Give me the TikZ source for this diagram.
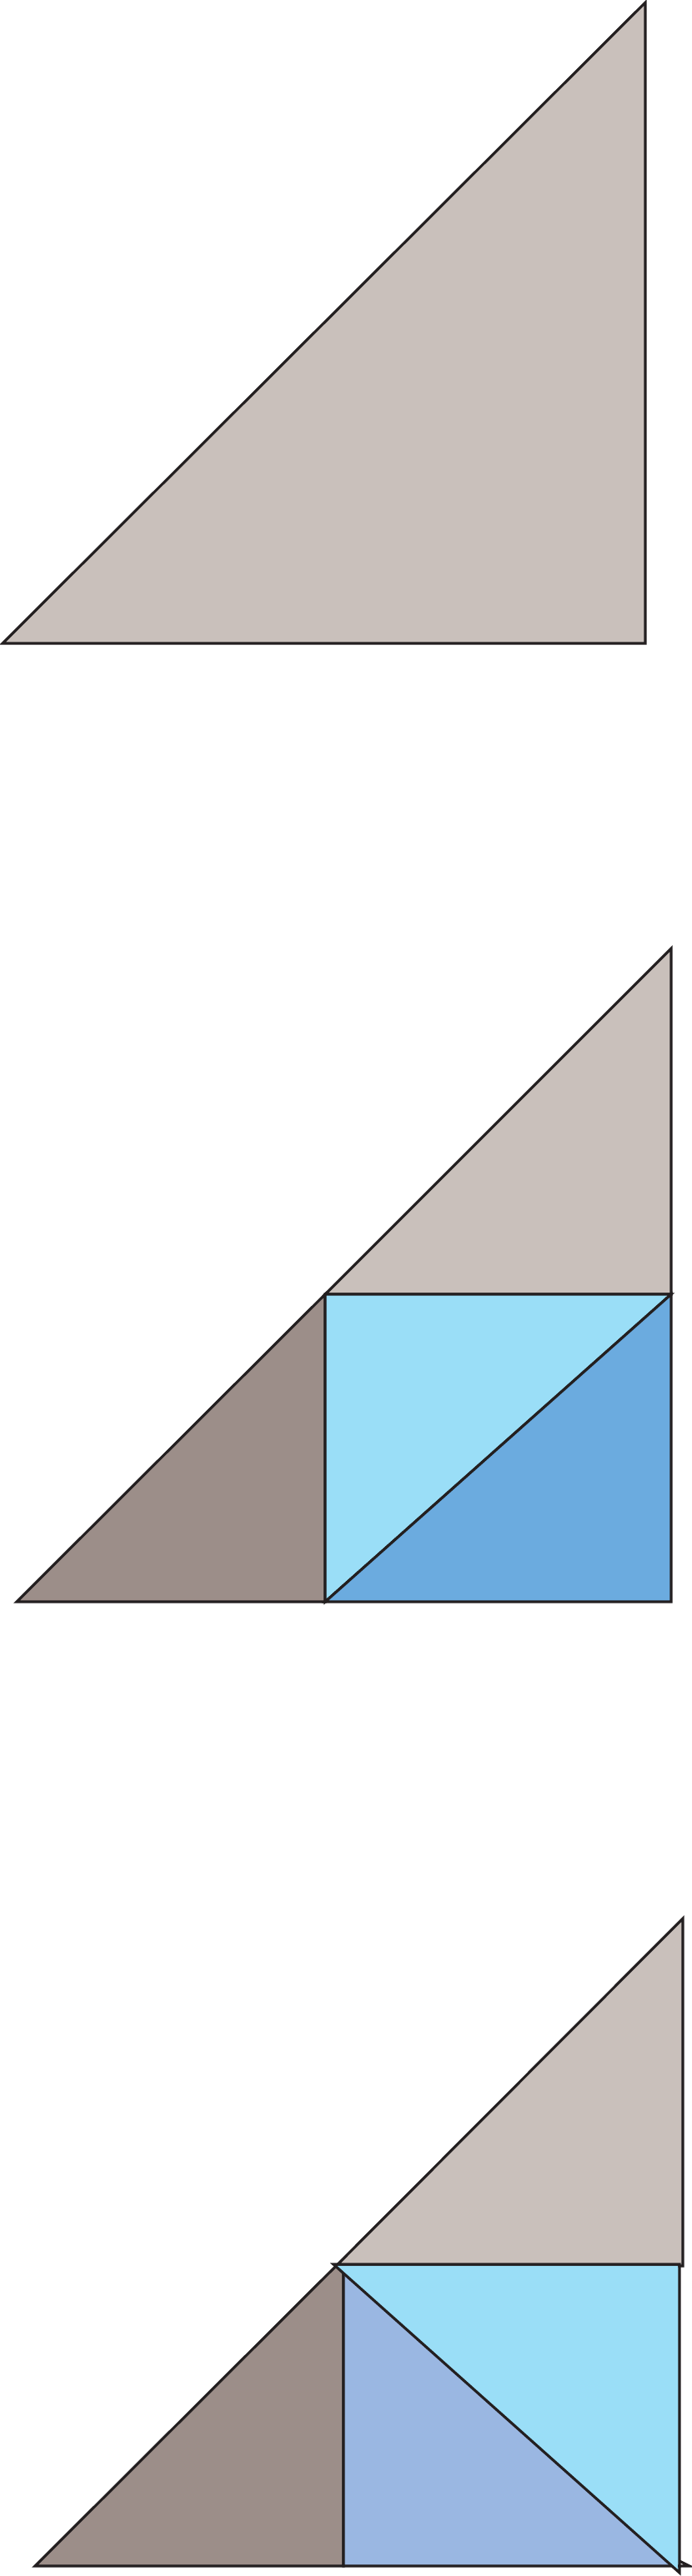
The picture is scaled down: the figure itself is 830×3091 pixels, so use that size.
\documentclass[tikz,border=0pt]{standalone}
\usepackage{tikz}
\usepackage{xcolor}
\definecolor{edge}{HTML}{231F20}
\definecolor{sand}{HTML}{C9C0BB}
\definecolor{taupe}{HTML}{9C8E89}
\definecolor{sky}{HTML}{9ADEF7}
\definecolor{ocean}{HTML}{6BABDF}
\definecolor{lilac}{HTML}{9AB7E2}
\tikzstyle{piece}=[draw=edge, line width=1.8pt, line join=miter]

\begin{document}
\begin{tikzpicture}[x=0.02cm,y=-0.02cm]
      \useasboundingbox (0,0) rectangle (830,3091);
      % whole triangle
      \filldraw [piece,fill=sand] (3,772) -- (774,3) -- (774,772) -- cycle;
      % cut into four pieces
      \filldraw [piece,fill=sand] (390,1553) -- (805,1138) -- (805,1553) -- cycle;
      \filldraw [piece,fill=taupe] (20,1922) -- (390,1553) -- (390,1922) -- cycle;
      \filldraw [piece,fill=sky] (390,1553) -- (805,1553) -- (390,1922) -- cycle;
      \filldraw [piece,fill=ocean] (805,1553) -- (805,1922) -- (390,1922) -- cycle;
      % pieces moved
      \filldraw [piece,fill=taupe] (42,3079) -- (405,2717) -- (412,2717) -- (412,3079) -- cycle;
      \filldraw [piece,fill=lilac] (412,2726) -- (813,3079) -- (412,3079) -- cycle;
      \filldraw [piece,fill=sky] (400,2717) -- (815,2717) -- (815,3087) -- cycle;
      \filldraw [piece,fill=sand] (405,2717) -- (819,2302) -- (819,2719) -- (815,2719) -- (815,2717) -- cycle;
      \draw [piece] (815,3073) -- (827,3079) -- (813,3079);
\end{tikzpicture}
\end{document}
